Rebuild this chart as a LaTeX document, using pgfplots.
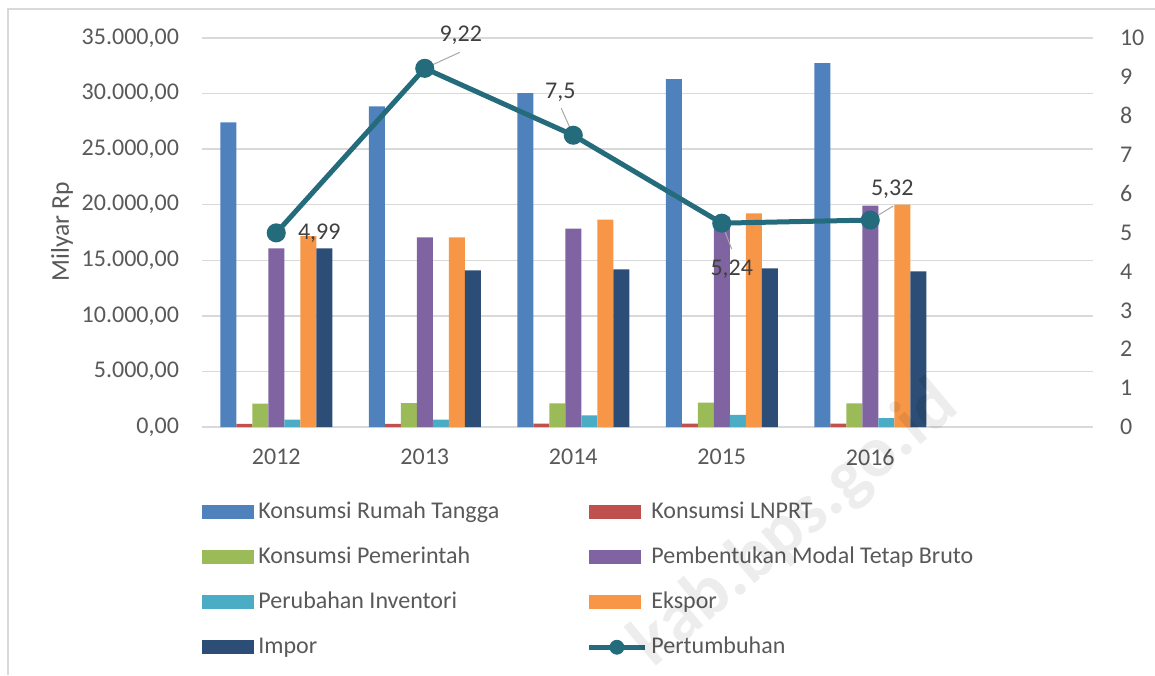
\documentclass[border=0pt]{standalone}
\usepackage{pgfplots}
\pgfplotsset{compat=1.18}
\usepackage{fontspec}
\setmainfont{Carlito}

\definecolor{txt}{HTML}{595959}
\definecolor{lbl}{HTML}{404040}
\definecolor{grd}{HTML}{D9D9D9}
\definecolor{cKRT}{HTML}{4F81BD}
\definecolor{cLNP}{HTML}{C0504D}
\definecolor{cPem}{HTML}{9BBB59}
\definecolor{cPMTB}{HTML}{8064A2}
\definecolor{cInv}{HTML}{4BACC6}
\definecolor{cEks}{HTML}{F79646}
\definecolor{cImp}{HTML}{2C4D75}
\definecolor{cPer}{HTML}{246B7B}

\newcommand{\fs}{\fontsize{12}{14}\selectfont}

\pgfplotsset{
  base/.style={
    width=445.5pt, height=194.5pt, scale only axis,
    at={(101pt,124pt)}, anchor=south west,
    xmin=-0.5, xmax=5.5,
    axis line style={draw=none},
    major tick length=0pt,
    tick label style={font=\fs, text=txt},
    /pgf/number format/assume math mode=true,
  },
}

\begin{document}
\begin{tikzpicture}[x=0.5pt, y=0.5pt]
\useasboundingbox (0,0) rectangle (1155,675);
\draw[gray!30, line width=1pt] (8,0) -- (8,666) -- (1155,666);

% bars (left axis, Milyar Rp)
\begin{axis}[base,
    ybar=0pt, bar width=8pt,
    ymin=0, ymax=35000, ytick={0,5000,...,35000},
    scaled y ticks=false,
    ymajorgrids, grid style={grd, line width=0.75pt},
    yticklabel style={/pgf/number format/.cd, fixed, fixed zerofill, precision=2,
      use comma, 1000 sep={.}, /tikz/.cd, xshift=-8pt},
    xtick={0,1,2,3,4}, xticklabels={2012,2013,2014,2015,2016},
    xticklabel style={yshift=-7.5pt},
    legend image code/.code={\fill[#1] (0pt,-3.5pt) rectangle (26pt,3.5pt);},
    legend columns=2, legend cell align=left,
    legend style={at={(0,-0.177)}, anchor=north west, draw=none, fill=none,
      inner sep=0pt, column sep=0pt, row sep=6.5pt, font=\fs, text=txt,
      nodes={inner sep=2pt, text height=9pt, text depth=3pt}},
  ]
  \addplot[fill=cKRT, draw=none, bar shift=-24pt] coordinates {(0,27400) (1,28850) (2,30050) (3,31300) (4,32750)};
  \addplot[fill=cLNP, draw=none, bar shift=-16pt] coordinates {(0,280) (1,290) (2,300) (3,300) (4,310)};
  \addplot[fill=cPem, draw=none, bar shift=-8pt] coordinates {(0,2100) (1,2150) (2,2130) (3,2190) (4,2130)};
  \addplot[fill=cPMTB, draw=none, bar shift=0pt] coordinates {(0,16080) (1,17070) (2,17840) (3,18900) (4,19910)};
  \addplot[fill=cInv, draw=none, bar shift=8pt] coordinates {(0,660) (1,660) (2,1050) (3,1080) (4,810)};
  \addplot[fill=cEks, draw=none, bar shift=16pt] coordinates {(0,17180) (1,17070) (2,18650) (3,19230) (4,20000)};
  \addplot[fill=cImp, draw=none, bar shift=24pt] coordinates {(0,16080) (1,14100) (2,14190) (3,14280) (4,14010)};
  \addlegendentry{\makebox[162pt][l]{Konsumsi Rumah Tangga}}
  \addlegendentry{Konsumsi LNPRT}
  \addlegendentry{\makebox[162pt][l]{Konsumsi Pemerintah}}
  \addlegendentry{Pembentukan Modal Tetap Bruto}
  \addlegendentry{\makebox[162pt][l]{Perubahan Inventori}}
  \addlegendentry{Ekspor}
  \addlegendentry{\makebox[162pt][l]{Impor}}
  \addlegendimage{legend image code/.code={\draw[cPer, line width=2.5pt] (0pt,0pt) -- (28pt,0pt); \fill[cPer] (14pt,0pt) circle (3.5pt);}}
  \addlegendentry{Pertumbuhan}
\end{axis}

% growth line (right axis)
\begin{axis}[base,
    axis y line*=right, axis x line=none, clip=false,
    ymin=0, ymax=10, ytick={0,1,...,10},
    yticklabel style={anchor=west, xshift=10pt},
  ]
  \addplot[cPer, line width=2.5pt, mark=*, mark size=3.5pt, mark options={fill=cPer, draw=cPer}]
    coordinates {(0,4.99) (1,9.22) (2,7.5) (3,5.24) (4,5.32)};
  \begin{scope}[font=\fs, text=lbl]
    \node at (axis cs:0,4.99) [xshift=21.5pt] {4,99};
    \draw[gray!70, line width=0.5pt] (axis cs:1,9.22) -- ++(17.5pt,8pt);
    \node at (axis cs:1,9.22) [xshift=18pt, yshift=16.5pt] {9,22};
    \draw[gray!70, line width=0.5pt] (axis cs:2,7.5) -- ++(-6pt,13.5pt);
    \node at (axis cs:2,7.5) [xshift=-6.5pt, yshift=21.5pt] {7,5};
    \draw[gray!70, line width=0.5pt] (axis cs:3,5.24) -- ++(5pt,-13pt);
    \node at (axis cs:3,5.24) [xshift=5pt, yshift=-23pt] {5,24};
    \draw[gray!70, line width=0.5pt] (axis cs:4,5.32) -- ++(11.5pt,7pt);
    \node at (axis cs:4,5.32) [xshift=11pt, yshift=15.5pt] {5,32};
  \end{scope}
\end{axis}

\node[rotate=90, font=\fontsize{12.8}{14}\selectfont, text=txt] at (62,443) {Milyar Rp};
\node[rotate=40, font=\fontsize{36}{40}\selectfont\bfseries, text=black, text opacity=0.07] at (795,150) {kab.bps.go.id};
\end{tikzpicture}
\end{document}
